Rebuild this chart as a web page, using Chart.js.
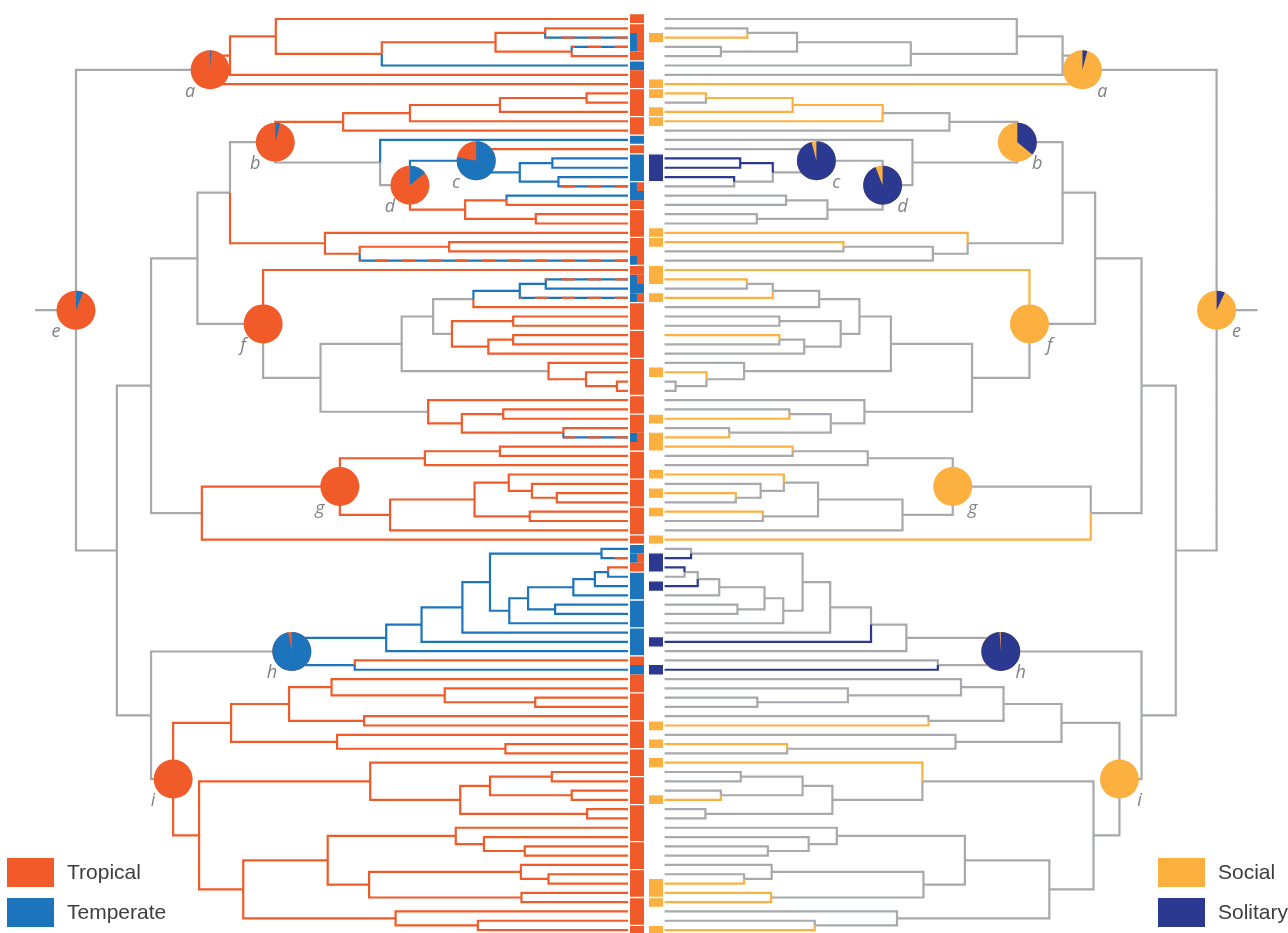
<!DOCTYPE html>
<html>
<head>
<meta charset="utf-8">
<script src="https://cdn.jsdelivr.net/npm/chart.js@4.4.1/dist/chart.umd.min.js"></script>
<style>
  html, body { margin: 0; padding: 0; background: #fff; }
  #wrap { position: relative; width: 1288px; height: 933px; }
</style>
</head>
<body>
<div id="wrap"><canvas id="tree"></canvas></div>
<script>
// Leaves are numbered 0..98 from top to bottom.
// Internal node = [age, upperChild, lowerChild]; ages run from tips (0) to the root (100).
const cladeA = [75.7, [72.1, [63.8, 0, [44.6, [24.0, [15.0, 1, 2], [10.2, 3, 4]], 5]], 6], 7];
const cladeB = [63.9,
  [51.6, [39.5, [23.2, [7.5, 8, 9], 10], 11], 12],
  [44.9, 13, [39.5, [27.5, 14, [19.6, [13.7, 15, 16], [12.6, 17, 18]]], [29.5, [22.0, 19, 20], [16.7, 21, 22]]]]];
const clade23 = [54.9, 23, [48.6, [32.4, 24, 25], 26]];
const cladeF = [66.1, 27, [55.7,
  [41.0, [35.3, [28.0, [19.6, [14.9, 28, 29], 30], 31], [31.9, [20.8, 32, 33], [25.3, [20.8, 34, 35], 36]]],
         [14.4, 37, [7.6, 38, [2.0, 39, 40]]]],
  [36.2, 41, [30.1, [22.6, 42, 43], [11.7, 44, 45]]]]];
const cladeG = [52.2, [36.8, [23.2, 46, 47], 48], [43.1, [27.8, [21.6, 49, [17.4, 50, [12.9, 51, 52]]], [17.8, 53, 54]], 55]];
const cladeH = [60.9,
  [43.8, [37.4, [30.0, [25.0, [4.8, 57, 58], [21.5, [18.1, [9.9, [6.0, [3.6, 59, 60], 61], 62], [13.2, 63, 64]], 65]], 66], 67], 68],
  [49.5, 69, 70]];
const cladeI = [82.4,
  [71.9, [61.4, [53.7, 71, [33.2, 72, [16.8, 73, 74]]], [47.8, 75, 76]], [52.7, 77, [22.2, 78, 79]]],
  [77.7, [46.7, 80, [30.4, [25.0, [13.8, 81, 82], [10.2, 83, 84]], [7.4, 85, 86]]],
         [69.7, [54.4, [31.2, 87, [26.1, 88, [18.7, 89, 90]]], [46.9, [19.4, 91, [14.4, 92, 93]], [19.3, 94, 95]]],
                [42.1, 96, [27.2, 97, 98]]]]];
const backbone = [100.0, cladeA, [92.6, [86.4, [78.0, [72.1, cladeB, clade23], cladeF], [77.2, cladeG, 56]], [86.4, cladeH, cladeI]]];
const rootStubAge = 107.4;

// tip states
const temperateLeaves = [5, 13, 15, 16, 17, 19, 29, 57, 60, 61, 62, 63, 64, 65, 66, 67, 68, 70];
const mixedLeaves = [2, 3, 18, 26, 28, 30, 45, 58];
const socialLeaves = [2, 7, 8, 10, 11, 23, 24, 27, 28, 30, 38, 43, 45, 46, 49, 51, 53, 56, 76, 78, 80, 84, 93, 94, 95, 98];
const socialLineOnly = [34];
const solitaryLeaves = [15, 16, 17, 58, 59, 61, 67, 70];
const groupBreaks = [0, 4, 7, 10, 12, 13, 14, 17, 20, 23, 26, 30, 33, 36, 40, 42, 46, 49, 52, 55, 56, 59, 62, 65, 68, 72, 75, 78, 81, 84, 88, 91, 94, 97];

// reconstructed branch states (edge leading into the node, by leaf span)
const grayHabitatEdges = ['0-98', '0-7', '8-98', '8-56', '8-45', '8-26', '8-22', '13-22', '14-22', '27-45', '28-45', '28-40',
  '28-36', '28-31', '32-36', '37-40', '41-45', '46-56', '57-98', '57-70', '71-98'];
const temperateEdges = ['14-18', '15-18', '15-16', '17-18', '28-30', '28-29', '57-68', '57-67', '57-66', '57-65', '57-58',
  '59-65', '59-64', '59-62', '59-61', '59-60', '63-64', '69-70'];
const socialEdges = ['8-9', '8-10'];
const solitaryEdges = ['15-16'];

// ancestral state pies
const pieNodes = ['0-7', '8-22', '14-18', '14-22', '0-98', '27-45', '46-55', '57-70', '71-98'];
const pieLabels = ['a', 'b', 'c', 'd', 'e', 'f', 'g', 'h', 'i'];
const temperateShare = [0.01, 0.04, 0.78, 0.14, 0.06, 0, 0, 0.97, 0];
const solitaryShare = [0.04, 0.36, 0.96, 0.94, 0.07, 0, 0, 0.99, 0];

const habitatLegend = ['Tropical', 'Temperate'];
const socialLegend = ['Social', 'Solitary'];

const COLORS = { T: '#F15A29', M: '#1C75BC', G: '#A7A9AC', S: '#FBB040', L: '#2B3990' };
const TIP_GAP = 3.315;
const COL_HAB = -1.685, COL_SOC = 1.757, HALF = 0.634;

const nodeByKey = {};
function build(node) {
  if (typeof node === 'number') {
    return { leaf: true, id: node, lo: node, hi: node, y: node, age: 0 };
  }
  const kids = [build(node[1]), build(node[2])];
  const n = { leaf: false, age: node[0], kids, lo: kids[0].lo, hi: kids[1].hi, y: (kids[0].y + kids[1].y) / 2 };
  n.key = n.lo + '-' + n.hi;
  nodeByKey[n.key] = n;
  return n;
}
const root = build(backbone);

const sx = (side, age) => side * (TIP_GAP + age);

function habitatOf(n) {
  if (n.leaf) {
    if (temperateLeaves.includes(n.id)) return 'M';
    if (mixedLeaves.includes(n.id)) return 'X';
    return 'T';
  }
  if (grayHabitatEdges.includes(n.key)) return 'G';
  if (temperateEdges.includes(n.key)) return 'M';
  return 'T';
}
function socialOf(n) {
  if (n.leaf) {
    if (socialLeaves.includes(n.id) || socialLineOnly.includes(n.id)) return 'S';
    if (solitaryLeaves.includes(n.id)) return 'L';
    return 'G';
  }
  if (socialEdges.includes(n.key)) return 'S';
  if (solitaryEdges.includes(n.key)) return 'L';
  return 'G';
}

const branches = { '-1': { T: [], M: [], G: [], dash: [] }, '1': { S: [], L: [], G: [] } };

function walk(n, side, stateOf) {
  if (n.leaf) return;
  const px = sx(side, n.age);
  n.kids.forEach(k => {
    let s = stateOf(k);
    const kx = sx(side, k.age);
    if (s === 'X') {
      branches[side].dash.push({ x: kx, y: k.y }, { x: px, y: k.y }, { x: px, y: null });
      s = 'M';
    }
    branches[side][s].push({ x: px, y: n.y }, { x: px, y: k.y }, { x: kx, y: k.y }, { x: kx, y: null });
    walk(k, side, stateOf);
  });
}
[[-1, habitatOf], [1, socialOf]].forEach(([side, fn]) => {
  branches[side].G.push({ x: sx(side, rootStubAge), y: root.y }, { x: sx(side, root.age), y: root.y }, { x: 0, y: null });
  walk(root, side, fn);
});

// trait cells next to the tips
const cells = { T: [], M: [], half: { T: [], M: [] }, S: [], L: [] };
function cell(arr, x, i) { arr.push({ x, y: i - 0.5 }, { x, y: i + 0.5 }, { x, y: null }); }
for (let i = 0; i <= root.hi; i++) {
  if (mixedLeaves.includes(i)) {
    cell(cells.half.M, COL_HAB - HALF, i);
    cell(cells.half.T, COL_HAB + HALF, i);
  } else {
    cell(temperateLeaves.includes(i) ? cells.M : cells.T, COL_HAB, i);
  }
  if (socialLeaves.includes(i)) cell(cells.S, COL_SOC, i);
  if (solitaryLeaves.includes(i)) cell(cells.L, COL_SOC, i);
}
const breaks = [];
groupBreaks.forEach(b => breaks.push({ x: -3.03, y: b + 0.5 }, { x: 3.15, y: b + 0.5 }, { x: 0, y: null }));

function lineSet(data, color, width, order, extra) {
  return Object.assign({
    data, borderColor: color, borderWidth: width, order,
    pointRadius: 0, fill: false, spanGaps: false, tension: 0,
    borderCapStyle: 'butt', borderJoinStyle: 'miter'
  }, extra || {});
}

const datasets = [
  lineSet(breaks, '#ffffff', 1.3, 0),
  lineSet(cells.T, COLORS.T, 14, 1),
  lineSet(cells.M, COLORS.M, 14, 1),
  lineSet(cells.half.T, COLORS.T, 7, 1),
  lineSet(cells.half.M, COLORS.M, 7, 1),
  lineSet(cells.S, COLORS.S, 14, 1),
  lineSet(cells.L, COLORS.L, 14, 1),
  lineSet(branches['-1'].dash, COLORS.T, 2.2, 2, { borderDash: [13.3, 13.3] }),
  lineSet(branches['-1'].T, COLORS.T, 2.2, 3),
  lineSet(branches['-1'].M, COLORS.M, 2.2, 3),
  lineSet(branches['1'].S, COLORS.S, 2.2, 3),
  lineSet(branches['1'].L, COLORS.L, 2.2, 3),
  lineSet(branches['-1'].G, COLORS.G, 2.2, 4),
  lineSet(branches['1'].G, COLORS.G, 2.2, 4)
];

function drawPie(ctx, x, y, share, minor, major) {
  const r = 19.5;
  ctx.fillStyle = major;
  ctx.beginPath();
  ctx.arc(x, y, r, 0, Math.PI * 2);
  ctx.fill();
  if (share > 0) {
    ctx.fillStyle = minor;
    ctx.beginPath();
    ctx.moveTo(x, y);
    ctx.arc(x, y, r, -Math.PI / 2, -Math.PI / 2 + share * Math.PI * 2);
    ctx.closePath();
    ctx.fill();
  }
}

const overlay = {
  id: 'overlay',
  afterDatasetsDraw(chart) {
    const ctx = chart.ctx;
    const xs = chart.scales.x, ys = chart.scales.y;
    ctx.save();
    pieNodes.forEach((key, i) => {
      const n = nodeByKey[key];
      const py = ys.getPixelForValue(n.y);
      [[-1, temperateShare[i], COLORS.M, COLORS.T], [1, solitaryShare[i], COLORS.L, COLORS.S]].forEach(([side, share, minor, major]) => {
        const px = xs.getPixelForValue(sx(side, n.age));
        drawPie(ctx, px, py, share, minor, major);
        ctx.fillStyle = '#808285';
        ctx.font = 'italic 18px "Open Sans"';
        ctx.textAlign = 'center';
        ctx.textBaseline = 'alphabetic';
        ctx.fillText(pieLabels[i], px + side * 20, py + 27);
      });
    });

    // legends, bottom left and bottom right
    [[habitatLegend, [COLORS.T, COLORS.M], 7], [socialLegend, [COLORS.S, COLORS.L], 1158]].forEach(([labels, colors, left]) => {
      labels.forEach((label, j) => {
        const top = 858 + j * 40;
        ctx.fillStyle = colors[j];
        ctx.fillRect(left, top, 47, 29);
        ctx.fillStyle = '#3d3d3d';
        ctx.font = '21px "Liberation Sans"';
        ctx.textAlign = 'left';
        ctx.textBaseline = 'middle';
        ctx.fillText(label, left + 60, top + 15);
      });
    });
    ctx.restore();
  }
};

new Chart(document.getElementById('tree'), {
  type: 'line',
  data: { datasets },
  options: {
    responsive: true,
    maintainAspectRatio: false,
    animation: false,
    events: [],
    layout: { padding: 0 },
    plugins: { legend: { display: false }, tooltip: { enabled: false } },
    scales: {
      x: { type: 'linear', min: -117.08, max: 116.25, display: false },
      y: { type: 'linear', min: -2.044, max: 98.32, reverse: true, display: false }
    }
  },
  plugins: [overlay]
});
</script>
</body>
</html>
